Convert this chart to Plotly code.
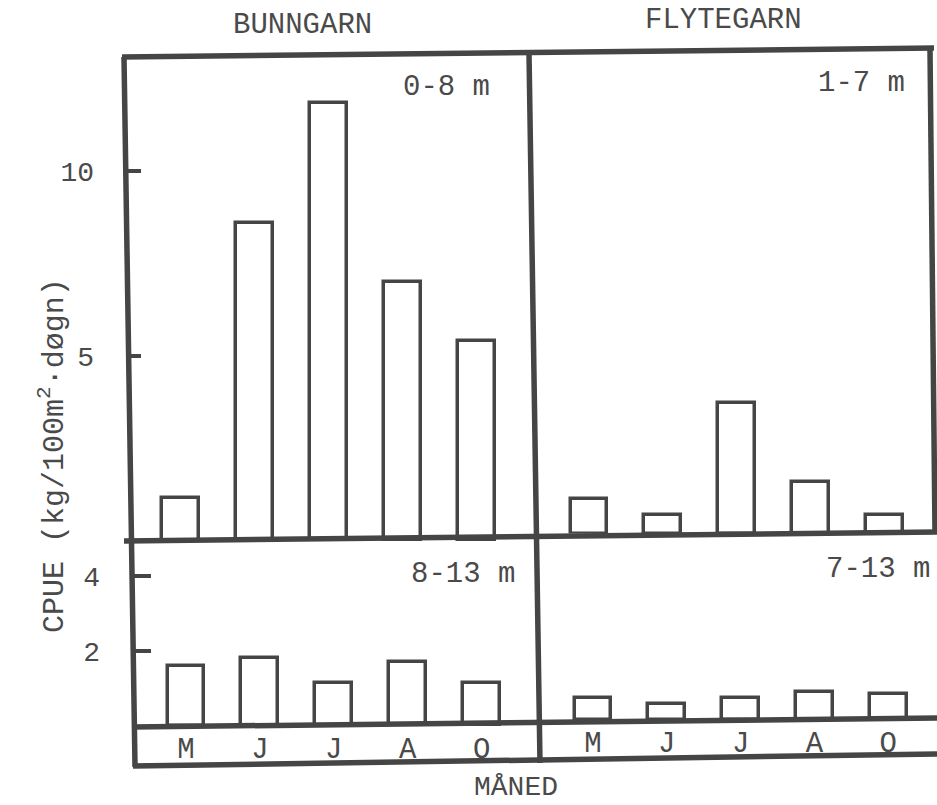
import plotly.graph_objects as go

# ---------------- data ----------------
months = ["M", "J", "J", "A", "O"]
bunngarn_0_8 = [1.16, 8.6, 11.85, 7.0, 5.4]      # top-left panel
flytegarn_1_7 = [0.92, 0.5, 3.54, 1.39, 0.51]    # top-right panel
bunngarn_8_13 = [1.6, 1.82, 1.15, 1.71, 1.15]    # bottom-left panel
flytegarn_7_13 = [0.58, 0.44, 0.6, 0.74, 0.7]    # bottom-right panel
top_ticks = [5, 10]
bottom_ticks = [2, 4]
column_titles = ["BUNNGARN", "FLYTEGARN"]
depth_labels = ["0-8 m", "1-7 m", "8-13 m", "7-13 m"]
y_title = "CPUE (kg/100m<sup>2</sup>·døgn)"
x_title = "MÅNED"

# ---------------- layout helpers ----------------
W, H = 937, 805
INK = "#454545"
TXT = "#4a4a4a"
FONT = "Liberation Mono"


def fx(x):
    return x / W


def fy(y):
    return 1 - y / H


panels = [
    dict(vals=bunngarn_0_8, left=127, right=531, top=56, base=541, c0=180, step=74.0, ppu=37.0,
         ticks=top_ticks, tlen=14, months=False),
    dict(vals=flytegarn_1_7, left=531, right=932, top=51, base=533.5, c0=589, step=73.9, ppu=37.0,
         ticks=[], tlen=0, months=False),
    dict(vals=bunngarn_8_13, left=133, right=538, top=540, base=726, c0=186, step=73.9, ppu=37.4,
         ticks=bottom_ticks, tlen=18, months=True),
    dict(vals=flytegarn_7_13, left=538, right=937, top=534, base=720, c0=593, step=73.8, ppu=37.4,
         ticks=[], tlen=0, months=True),
]

fig = go.Figure()
layout = {}
for i, p in enumerate(panels, start=1):
    xa = "x" if i == 1 else f"x{i}"
    ya = "y" if i == 1 else f"y{i}"
    fig.add_trace(go.Bar(
        x=list(range(len(months))), y=p["vals"], width=0.5,
        marker=dict(color="white", line=dict(color=INK, width=3.5)),
        xaxis=xa, yaxis=ya, showlegend=False, hoverinfo="skip",
    ))
    xkey = "xaxis" if i == 1 else f"xaxis{i}"
    ykey = "yaxis" if i == 1 else f"yaxis{i}"
    layout[xkey] = dict(
        domain=[fx(p["left"]), fx(p["right"])],
        range=[(p["left"] - p["c0"]) / p["step"], (p["right"] - p["c0"]) / p["step"]],
        anchor=ya, showgrid=False, zeroline=False, showline=False, fixedrange=True,
        tickmode="array", tickvals=list(range(len(months))), ticktext=months,
        showticklabels=p["months"], ticks="",
        tickfont=dict(family=FONT, size=29, color=TXT), ticklabelstandoff=2,
    )
    layout[ykey] = dict(
        domain=[fy(p["base"]), fy(p["top"])],
        range=[0, (p["base"] - p["top"]) / p["ppu"]],
        anchor=xa, showgrid=False, zeroline=False, showline=False, fixedrange=True,
        tickmode="array", tickvals=p["ticks"], ticktext=[str(t) for t in p["ticks"]],
        ticks="inside" if p["ticks"] else "", ticklen=p["tlen"], tickwidth=4, tickcolor=INK,
        showticklabels=bool(p["ticks"]),
        tickfont=dict(family=FONT, size=28, color=TXT), ticklabelstandoff=32,
    )

# frame lines (the scanned figure is slightly rotated)
frame = [
    ((122, 57), (934, 48)),     # top border
    ((124, 57), (135, 767)),    # left edge
    ((529, 53), (540, 763)),    # centre divider
    ((930, 49), (935, 532)),    # right edge (top-right panel)
    ((124, 541), (937, 532)),   # middle horizontal
    ((133, 727), (937, 718)),   # bottom baseline
    ((133, 766), (937, 754)),   # month strip bottom
]
shapes = [
    dict(type="line", xref="paper", yref="paper",
         x0=fx(a[0]), y0=fy(a[1]), x1=fx(b[0]), y1=fy(b[1]),
         line=dict(color=INK, width=5.5), layer="above")
    for a, b in frame
]

annotations = []


def add_text(text, x, y, size=29, angle=0, yanchor="middle"):
    annotations.append(dict(
        text=text, x=fx(x), y=fy(y), xref="paper", yref="paper",
        xanchor="center", yanchor=yanchor, showarrow=False, textangle=angle,
        font=dict(family=FONT, size=size, color=TXT),
    ))


add_text(column_titles[0], 302, 26)
add_text(column_titles[1], 723, 21)
add_text(depth_labels[0], 446, 87)
add_text(depth_labels[1], 861, 83)
add_text(depth_labels[2], 463, 574)
add_text(depth_labels[3], 878, 569)
add_text(x_title, 516, 805, size=28, yanchor="bottom")
add_text(y_title, 52, 456, size=30, angle=-90)

fig.update_layout(
    width=W, height=H, margin=dict(l=0, r=0, t=0, b=0),
    paper_bgcolor="white", plot_bgcolor="rgba(0,0,0,0)",
    shapes=shapes, annotations=annotations, bargap=0,
    **layout,
)

fig.write_html("out.html")
